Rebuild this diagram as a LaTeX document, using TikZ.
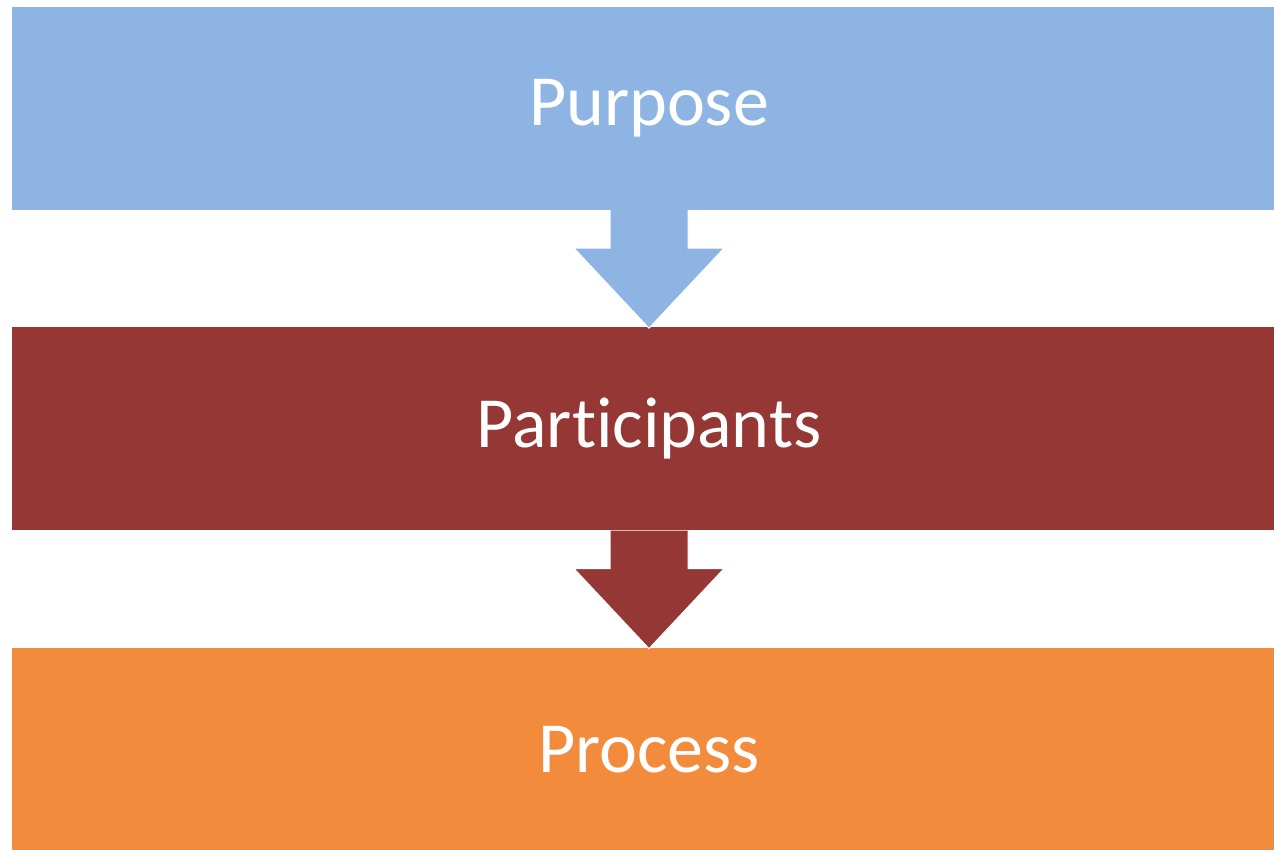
\documentclass[tikz,border=0pt]{standalone}
\usepackage{fontspec}
\setmainfont{Carlito}[Ligatures=NoCommon]
\usetikzlibrary{positioning,calc}
\definecolor{purposeblue}{HTML}{8EB4E3}
\definecolor{participantsred}{HTML}{953735}
\definecolor{processorange}{HTML}{F28B3C}
% arrow from the bottom of one box down to the top of the next
\newcommand{\flowarrow}[3]{%
\filldraw[fill=#1,draw=white,line width=1pt] ($(#2.south)+(-39,0)$) -- ++(0,38) -- ++(-36,0) -- ($(#3.north)+(0,1)$) -- ++(75,-80) -- ++(-36,0) -- ++(0,-38);}

\begin{document}
\begin{tikzpicture}[x=1pt,y=-1pt,node distance=117pt,box/.style={rectangle,minimum width=1274pt,minimum height=203pt,inner sep=0pt,text=white,font=\fontsize{72}{86}\selectfont}]
\useasboundingbox (0,0) rectangle (1274,849);
\clip (0,0) rectangle (1274,849);
\begin{scope}
\node[box,fill=purposeblue] (purpose) at (649,108.5) {\raisebox{-1.5pt}{Purpose}};
\node[box,fill=participantsred,below=of purpose] (participants) {\raisebox{-1.5pt}{Participants}};
\node[box,fill=processorange,below=of participants] (process) {\raisebox{-1.5pt}{Process}};
\end{scope}
\begin{scope}
\flowarrow{purposeblue}{purpose}{participants}
\flowarrow{participantsred}{participants}{process}
\end{scope}
\end{tikzpicture}
\end{document}
